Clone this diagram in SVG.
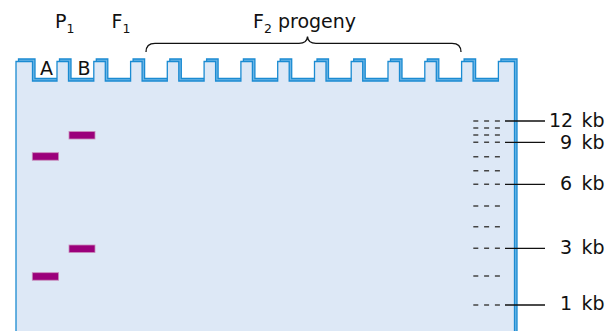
<svg xmlns="http://www.w3.org/2000/svg" width="610" height="331" viewBox="0 0 610 331">
<defs>
<style>
text{font-family:"DejaVu Sans","Liberation Sans",sans-serif;font-size:19px;fill:#111}
.sub{font-size:12.5px}
.band{fill:#9b007b;stroke:#c98bbb;stroke-width:0.8}
.dash{stroke:#444;stroke-width:1.6;stroke-dasharray:5 5.8;fill:none}
.lead{stroke:#111;stroke-width:1.3;fill:none}
.gelline{stroke:#1b8bd2;stroke-width:1.3;stroke-linejoin:miter}
</style>
<path id="gelshape" d="M16,340 L16,61.5 L32.5,61.5 L32.5,81 L57,81 L57,61.5 L68.5,61.5 L68.5,81 L93.8,81 L93.8,61.5 L105.3,61.5 L105.3,81 L130.6,81 L130.6,61.5 L142.1,61.5 L142.1,81 L167.3,81 L167.3,61.5 L178.8,61.5 L178.8,81 L204.1,81 L204.1,61.5 L215.6,61.5 L215.6,81 L240.9,81 L240.9,61.5 L252.4,61.5 L252.4,81 L277.7,81 L277.7,61.5 L289.2,61.5 L289.2,81 L314.5,81 L314.5,61.5 L326,61.5 L326,81 L351.2,81 L351.2,61.5 L362.7,61.5 L362.7,81 L388,81 L388,61.5 L399.5,61.5 L399.5,81 L424.8,81 L424.8,61.5 L436.3,61.5 L436.3,81 L461.6,81 L461.6,61.5 L473.1,61.5 L473.1,81 L498.4,81 L498.4,61.5 L514.5,61.5 L514.5,340 Z"/>
</defs>
<g id="gel">
<use href="#gelshape" transform="translate(2.5,-2.5)" fill="#6db6e6" class="gelline"/>
<use href="#gelshape" fill="#dde8f6" class="gelline"/>
</g>
<g id="lane-labels">
<text x="46.5" y="75" text-anchor="middle">A</text>
<text x="84" y="75" text-anchor="middle">B</text>
</g>
<g id="headers">
<text id="p1" x="55" y="28">P<tspan class="sub" dy="5">1</tspan></text>
<text id="f1" x="111.5" y="28">F<tspan class="sub" dy="5">1</tspan></text>
<text id="f2" x="253" y="28">F<tspan class="sub" dy="5">2</tspan><tspan dy="-5"> progeny</tspan></text>
<path id="brace" class="lead" d="M146,52 Q146,43.3 155,43.3 L299,43.3 Q307,43.3 307.5,36.5 Q308,43.3 316,43.3 L452,43.3 Q461,43.3 461,52"/>
</g>
<g id="bands">
<rect class="band" x="69" y="131.5" width="26" height="7.5"/>
<rect class="band" x="32.3" y="152.7" width="26.3" height="7.5"/>
<rect class="band" x="69" y="245" width="26" height="7.5"/>
<rect class="band" x="32.3" y="272.7" width="26.3" height="7.5"/>
</g>
<g id="marker">
<path class="dash" d="M473.3,121H501M473.3,128H501M473.3,135H501M473.3,142.3H501M473.3,156.7H501M473.3,170.7H501M473.3,184.3H501M473.3,206H501M473.3,226.7H501M473.3,248.3H501M473.3,276H501M473.3,305H501"/>
</g>
<g id="connectors">
<path class="lead" d="M505,121H545M505,142.3H545M505,184.3H545M505,248.3H545M505,305H545"/>
</g>
<g id="size-labels">
<text x="549" y="127">12 <tspan x="581.5">kb</tspan></text>
<text x="560" y="148.5">9 <tspan x="581.5">kb</tspan></text>
<text x="560" y="190">6 <tspan x="581.5">kb</tspan></text>
<text x="560" y="253.5">3 <tspan x="581.5">kb</tspan></text>
<text x="560" y="310">1 <tspan x="581.5">kb</tspan></text>
</g>
</svg>
